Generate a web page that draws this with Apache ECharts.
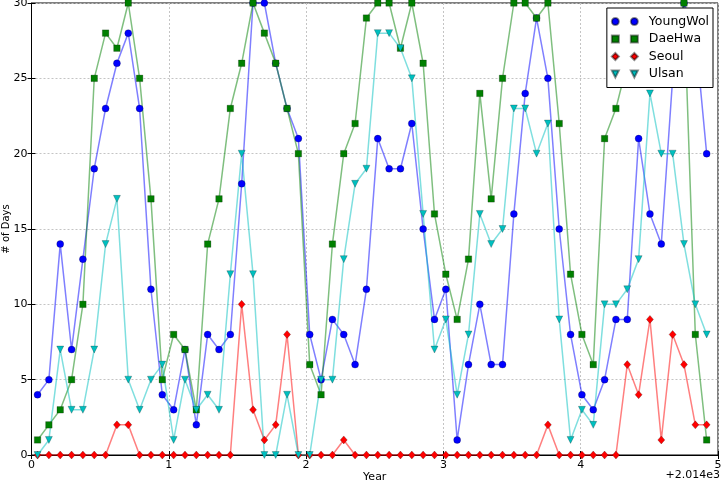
<!DOCTYPE html>
<html>
<head>
<meta charset="utf-8">
<script src="https://cdn.jsdelivr.net/npm/echarts@6/dist/echarts.min.js"></script>
<style>
html,body{margin:0;padding:0;background:#fff;}
#chart{width:723px;height:482px;}
</style>
</head>
<body>
<div id="chart"></div>
<script>
// Monthly samples, x in years after 2014 (axis offset +2.014e3)
const xStart = 0.044;      // first sample (years)
const xStep = 0.0826;      // one month step (years)
const seriesNames = ['YoungWol', 'DaeHwa', 'Seoul', 'Ulsan'];
const youngWol = [4,5,14,7,13,19,23,26,28,23,11,4, 3,7,2,8,7,8,18,30,30,26,23,21, 8,5,9,8,6,11,21,19,19,22,15,9, 11,1,6,10,6,6,16,24,29,25,15,8, 4,3,5,9,9,21,16,14,25,30,28,20];
const daeHwa   = [1,2,3,5,10,25,28,27,30,25,17,5, 8,7,3,14,17,23,26,30,28,26,23,20, 6,4,14,20,22,29,30,30,27,30,26,16, 12,9,13,24,17,25,30,30,29,30,22,12, 8,6,21,23,26,27,28,28,27,30,8,1];
const seoul    = [0,0,0,0,0,0,0,2,2,0,0,0, 0,0,0,0,0,0,10,3,1,2,8,0, 0,0,0,1,0,0,0,0,0,0,0,0, 0,0,0,0,0,0,0,0,0,2,0,0, 0,0,0,0,6,4,9,1,8,6,2,2];
const ulsan    = [0,1,7,3,3,7,14,17,5,3,5,6, 1,5,3,4,3,12,20,12,0,0,4,0, 0,5,5,13,18,19,28,28,27,25,16,7, 9,4,8,16,14,15,23,23,20,22,9,1, 3,2,10,10,11,13,24,20,20,14,10,8];
const xTicks = [0,1,2,3,4,5];
const yTicks = [0,5,10,15,20,25,30];
const axisOffsetText = '+2.014e3';
const xAxisTitle = 'Year';
const yAxisTitle = '# of Days';

function pairs(vals){ return vals.map((v,i)=>[xStart + i*xStep, v]); }

const FONT = 'DejaVu Sans';
const icons = {
  circle: 'path://M0,3.5A3.5,3.5,0,1,0,7,3.5A3.5,3.5,0,1,0,0,3.5ZM19,3.5A3.5,3.5,0,1,0,26,3.5A3.5,3.5,0,1,0,19,3.5Z',
  rect: 'path://M0,0L7,0L7,7L0,7ZM19,0L26,0L26,7L19,7Z',
  diamond: 'path://M3.5,0L7,3.5L3.5,7L0,3.5ZM22.5,0L26,3.5L22.5,7L19,3.5Z',
  tri: 'path://M0,0L7,0L3.5,7ZM19,0L26,0L22.5,7Z'
};

const styles = [
  {data: youngWol, color:'#0000ff', line:'rgba(0,0,255,0.5)', symbol:'circle', size:7, rot:0, icon:icons.circle},
  {data: daeHwa, color:'#008000', line:'rgba(0,128,0,0.5)', symbol:'rect', size:6.5, rot:0, icon:icons.rect},
  {data: seoul, color:'#ff0000', line:'rgba(255,0,0,0.5)', symbol:'diamond', size:[7,8], rot:0, icon:icons.diamond},
  {data: ulsan, color:'#00bfbf', line:'rgba(0,191,191,0.5)', symbol:'triangle', size:7, rot:180, icon:icons.tri}
];

const gridLine = {show:true, lineStyle:{color:'#c4c4c4', type:[2,2], width:1}};

const option = {
  animation:false,
  backgroundColor:'#fff',
  grid:{left:31.5, right:5, top:3, bottom:27, outerBoundsMode:'none', containLabel:false,
        show:true, borderColor:'#000', borderWidth:1, backgroundColor:'transparent'},
  xAxis:[{
    type:'value', min:0, max:5, interval:1,
    name:xAxisTitle, nameLocation:'middle', nameGap:17, nameMoveOverlap:false,
    nameTextStyle:{fontFamily:FONT, fontSize:11, color:'#000'},
    axisLine:{show:true, lineStyle:{color:'#000'}},
    axisTick:{show:true, inside:true, length:4, lineStyle:{color:'#000'}},
    axisLabel:{fontFamily:FONT, fontSize:11, color:'#000', margin:5, formatter:v=>xTicks.includes(v)?String(v):''},
    splitLine:gridLine
  },{
    type:'value', min:0, max:5, interval:1, position:'top',
    axisLine:{show:false}, axisLabel:{show:false}, splitLine:{show:false},
    axisTick:{show:true, inside:true, length:4, lineStyle:{color:'#000'}}
  }],
  yAxis:[{
    type:'value', min:0, max:30, interval:5,
    name:yAxisTitle, nameLocation:'middle', nameGap:20, nameRotate:90, nameMoveOverlap:false,
    nameTextStyle:{fontFamily:FONT, fontSize:10, color:'#000'},
    axisLine:{show:true, lineStyle:{color:'#000'}},
    axisTick:{show:true, inside:true, length:4, lineStyle:{color:'#000'}},
    axisLabel:{fontFamily:FONT, fontSize:11, color:'#000', margin:4, formatter:v=>yTicks.includes(v)?String(v):''},
    splitLine:gridLine
  },{
    type:'value', min:0, max:30, interval:5, position:'right',
    axisLine:{show:false}, axisLabel:{show:false}, splitLine:{show:false},
    axisTick:{show:true, inside:true, length:4, lineStyle:{color:'#000'}}
  }],
  legend:{
    orient:'vertical', right:10, top:8,
    backgroundColor:'#fff', borderColor:'#000', borderWidth:1, borderRadius:0,
    padding:[7,4,7,4], itemGap:4.5, itemWidth:26, itemHeight:7,
    textStyle:{fontFamily:FONT, fontSize:12.5, color:'#000', padding:[0,0,0,6]},
    data: seriesNames.map((n,i)=>({name:n, icon:styles[i].icon}))
  },
  graphic:[{
    type:'text', right:3, top:470,
    style:{text:axisOffsetText, font:'11px "DejaVu Sans"', fill:'#000'}
  }],
  series: seriesNames.map((n,i)=>({
    name:n, type:'line', data:pairs(styles[i].data),
    symbol:styles[i].symbol, symbolSize:styles[i].size, symbolRotate:styles[i].rot,
    showAllSymbol:true, clip:false,
    lineStyle:{color:styles[i].line, width:1.5},
    itemStyle:{color:styles[i].color, borderColor:'rgba(0,0,0,0.45)', borderWidth:0.5},
    emphasis:{disabled:true}
  }))
};

const chart = echarts.init(document.getElementById('chart'), null, {renderer:'canvas'});
chart.setOption(option);
</script>
</body>
</html>
